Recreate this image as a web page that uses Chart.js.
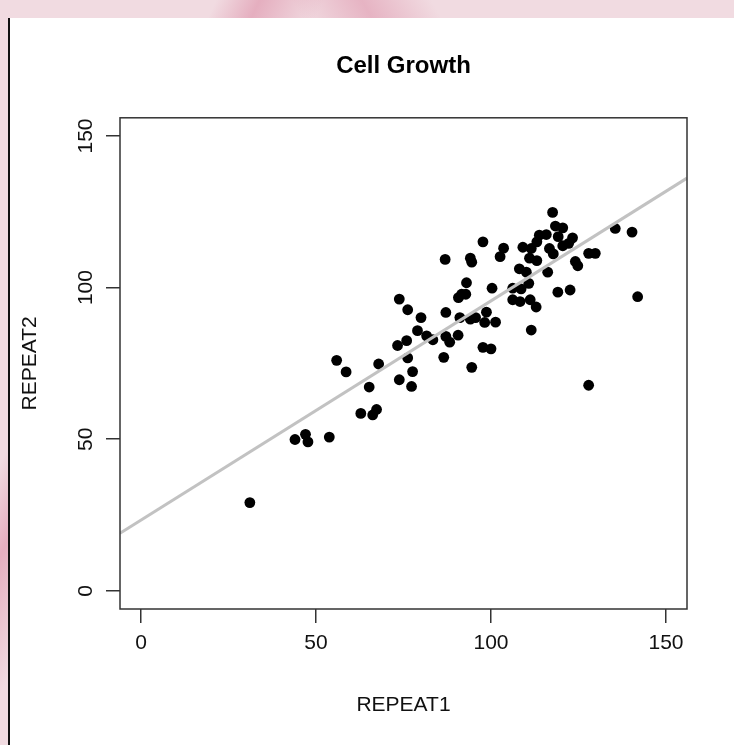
<!DOCTYPE html>
<html>
<head>
<meta charset="utf-8">
<script src="https://cdn.jsdelivr.net/npm/chart.js@4"></script>
<style>
  html, body { margin: 0; padding: 0; }
  body {
    width: 734px; height: 745px; overflow: hidden; position: relative;
    background:
      linear-gradient(115deg, rgba(0,0,0,0) 20%, rgba(214,120,150,0.45) 24%, rgba(0,0,0,0) 30%),
      linear-gradient(60deg, rgba(0,0,0,0) 62%, rgba(214,120,150,0.4) 68%, rgba(0,0,0,0) 74%),
      linear-gradient(100deg, rgba(0,0,0,0) 90%, rgba(214,120,150,0.4) 95%, rgba(0,0,0,0) 99%),
      #f1dbe1;
  }
  #panel {
    position: absolute; left: 8px; top: 18px; right: 0; bottom: 0;
    background: #fff; border-left: 2px solid #111;
  }
  #wrap { position: absolute; left: 0; top: 0; width: 734px; height: 745px; }
</style>
</head>
<body>
<div id="panel"></div>
<div id="wrap"><canvas id="myChart" width="734" height="745"></canvas></div>
<script>
// values
var repeat1 = [31.1, 44.0, 47.0, 47.7, 53.8, 55.9, 58.6, 65.2, 62.8, 66.2,
	67.3, 67.9, 73.3, 73.8, 73.8, 86.9, 94.1, 94.5, 93.0, 91.6,
	90.7, 92.8, 100.3, 76.2, 80.0, 87.1, 91.1, 94.1, 95.6, 98.7,
	98.2, 101.3, 79.0, 81.6, 83.4, 87.1, 88.2, 90.6, 75.9, 97.7,
	100.0, 76.2, 86.5, 77.6, 77.3, 94.5, 117.6, 118.4, 120.5, 113.8,
	115.8, 119.2, 123.3, 113.1, 109.1, 111.5, 116.7, 117.8, 120.5, 122.2,
	127.9, 129.8, 97.7, 103.6, 102.6, 111.0, 113.1, 124.1, 124.8, 108.1,
	110.1, 116.2, 110.8, 106.2, 108.6, 119.1, 122.6, 106.2, 108.3, 111.2,
	112.9, 111.5, 127.9, 135.5, 140.3, 141.9];
var repeat2 = [29.1, 49.9, 51.6, 49.1, 50.7, 76.0, 72.2, 67.2, 58.5, 58.0,
	59.8, 74.8, 80.9, 69.6, 96.2, 109.3, 109.7, 108.4, 101.6, 97.8,
	96.7, 97.8, 99.8, 92.7, 90.1, 91.8, 90.1, 89.6, 90.1, 91.9,
	88.5, 88.6, 85.8, 84.1, 82.8, 83.9, 82.0, 84.3, 82.5, 80.3,
	79.8, 76.8, 77.0, 72.3, 67.4, 73.7, 124.8, 120.3, 119.7, 117.3,
	117.5, 116.8, 116.4, 115.1, 113.3, 112.9, 112.9, 111.1, 113.8, 114.6,
	111.3, 111.3, 115.1, 113.0, 110.2, 109.7, 108.9, 108.6, 107.2, 106.2,
	105.1, 105.1, 101.4, 99.8, 99.6, 98.5, 99.2, 96.0, 95.4, 96.0,
	93.6, 86.0, 67.8, 119.5, 118.3, 97.0];

// grey fitted line, ends read at the plot edges
var fitX = [-6, 156];
var fitY = [19.0, 136.1];

var tickVals = [0, 50, 100, 150];
var axisMin = -6, axisMax = 156;

var pts = [];
for (var i = 0; i < repeat1.length; i++) {
	pts.push({ x: repeat1[i], y: repeat2[i] });
}
var fitPts = [];
for (var j = 0; j < fitX.length; j++) {
	fitPts.push({ x: fitX[j], y: fitY[j] });
}

var fontName = "'Liberation Sans', Arial, Helvetica, sans-serif";
Chart.defaults.font.family = fontName;
Chart.defaults.color = '#111';

function setTicks(axis) {
	axis.ticks = tickVals.map(function(v) { return { value: v }; });
}

var plotBox = {
	id: 'plotBox',
	afterDraw: function(chart) {
		var a = chart.chartArea, c = chart.ctx;
		c.save();
		c.strokeStyle = '#333';
		c.lineWidth = 1.5;
		c.strokeRect(a.left, a.top, a.right - a.left, a.bottom - a.top);
		c.restore();
	}
};

var ctx = document.getElementById('myChart');
var config = {
	type: 'scatter',
	data: {
		datasets: [{
			type: 'line',
			label: 'fit',
			data: fitPts,
			borderColor: '#c2c2c2',
			borderWidth: 3,
			pointRadius: 0,
			fill: false
		}, {
			label: 'points',
			data: pts,
			backgroundColor: '#000',
			borderWidth: 0,
			pointRadius: 5.4,
			pointHoverRadius: 5.4
		}]
	},
	options: {
		responsive: false,
		devicePixelRatio: 1,
		animation: false,
		layout: { padding: { top: 52, right: 47, bottom: 0, left: 0 } },
		plugins: {
			legend: { display: false },
			tooltip: { enabled: false },
			title: {
				display: true,
				text: 'Cell Growth',
				fullSize: false,
				color: '#000',
				font: { size: 24, weight: 'bold', lineHeight: 1.2 },
				padding: { top: 0, bottom: 37 }
			}
		},
		scales: {
			x: {
				type: 'linear',
				position: 'bottom',
				min: axisMin,
				max: axisMax,
				afterBuildTicks: setTicks,
				afterFit: function(s) { s.height = 136; },
				border: { display: false },
				grid: { drawOnChartArea: false, drawTicks: true, tickLength: 14, color: '#333', lineWidth: 1.5 },
				ticks: { font: { size: 21 }, color: '#111', padding: 8 },
				title: { display: true, text: 'REPEAT1', font: { size: 21 }, color: '#111', padding: { top: 0, bottom: 27 } }
			},
			y: {
				type: 'linear',
				position: 'left',
				min: axisMin,
				max: axisMax,
				afterBuildTicks: setTicks,
				afterFit: function(s) { s.width = 120; },
				border: { display: false },
				grid: { drawOnChartArea: false, drawTicks: true, tickLength: 14, color: '#333', lineWidth: 1.5 },
				ticks: { font: { size: 21 }, color: '#111', padding: 2, minRotation: 90, maxRotation: 90, crossAlign: 'center' },
				title: { display: true, text: 'REPEAT2', font: { size: 21 }, color: '#111', padding: { top: 18, bottom: 0 } }
			}
		}
	},
	plugins: [plotBox]
};

var myChart = new Chart(ctx, config);
</script>
</body>
</html>
